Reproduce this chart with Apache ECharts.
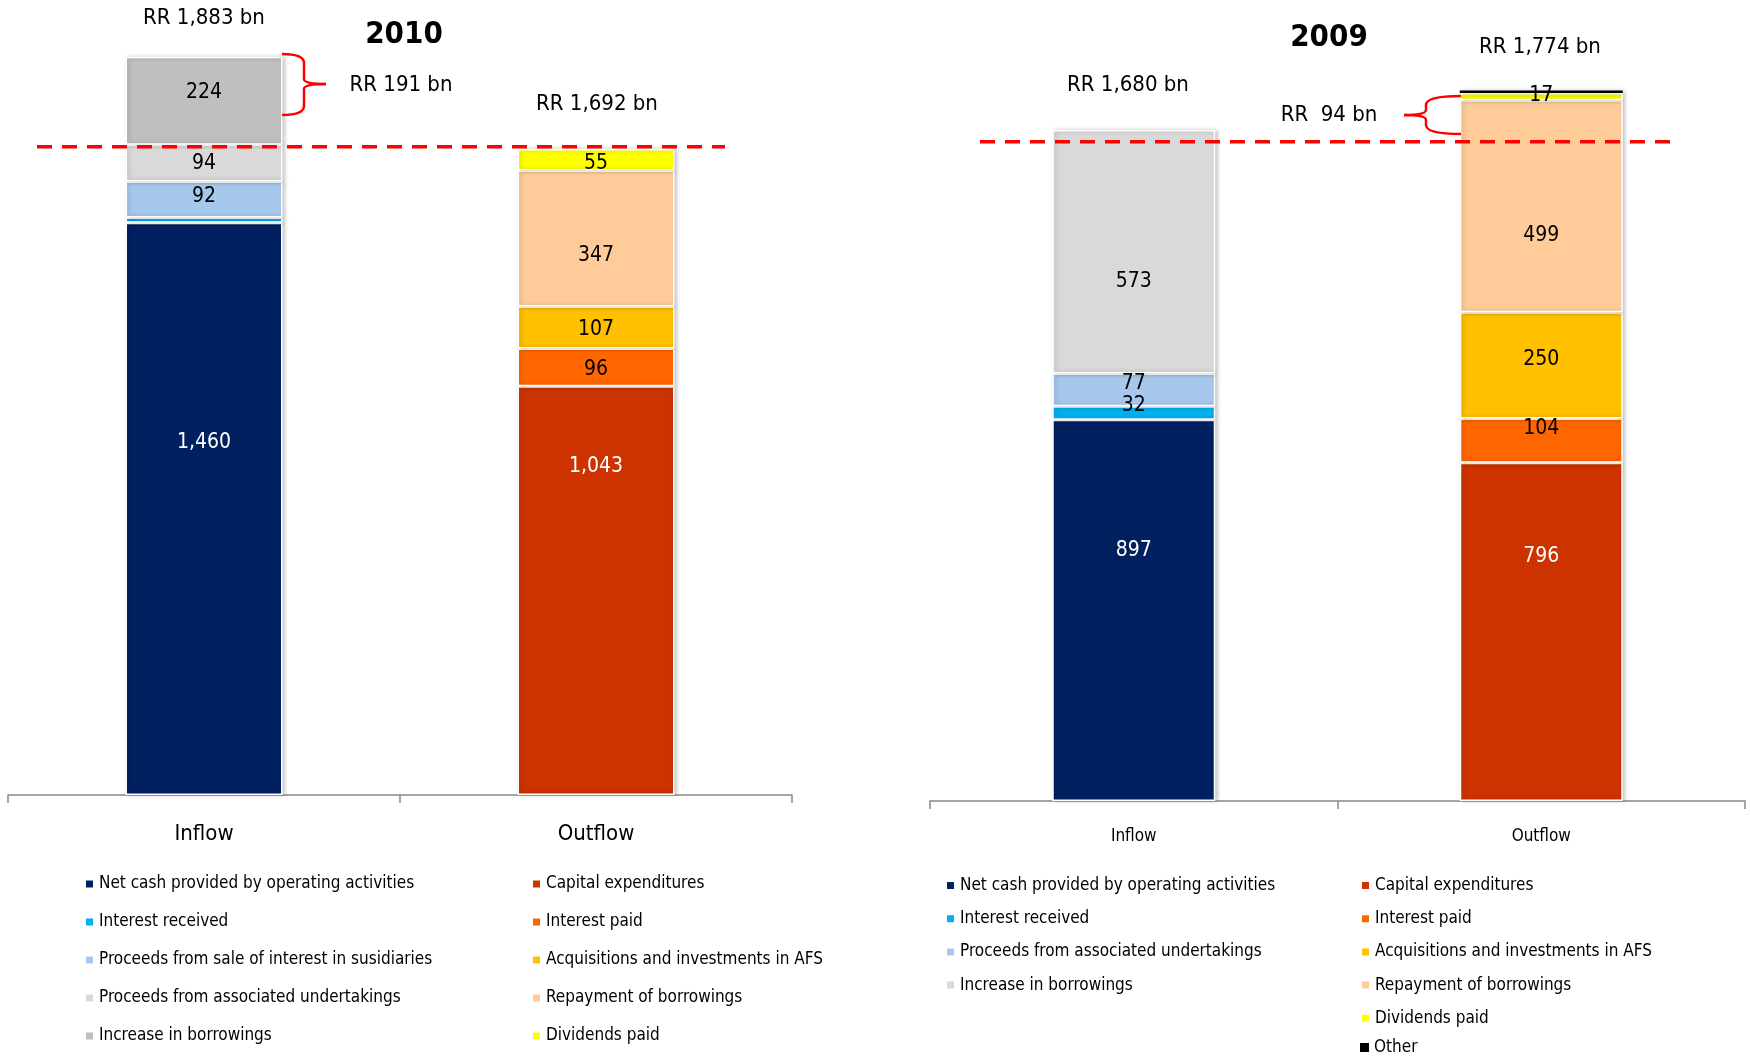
<!DOCTYPE html>
<html><head><meta charset="utf-8">
<script src="https://cdn.jsdelivr.net/npm/echarts@6/dist/echarts.min.js"></script>
<style>html,body{margin:0;padding:0;background:#fff}#c{width:1750px;height:1057px}</style>
</head><body><div id="c"></div>
<script>
// ---------- DATA ----------
const categories = ['Inflow', 'Outflow'];
// 2010 (RR bn)
const netCash2010 = [1460, null];
const interestReceived2010 = [13, null];
const proceedsSale2010 = [92, null];
const proceedsAssoc2010 = [94, null];
const increaseBorrow2010 = [224, null];
const capex2010 = [null, 1043];
const interestPaid2010 = [null, 96];
const acquisitions2010 = [null, 107];
const repayment2010 = [null, 347];
const dividends2010 = [null, 55];
const totals2010 = ['RR 1,883 bn', 'RR 1,692 bn'];
const gap2010 = 'RR 191 bn';
const dashLevel2010 = 1654;
// 2009 (RR bn)
const netCash2009 = [897, null];
const interestReceived2009 = [32, null];
const proceedsAssoc2009 = [77, null];
const increaseBorrow2009 = [573, null];
const capex2009 = [null, 796];
const interestPaid2009 = [null, 104];
const acquisitions2009 = [null, 250];
const repayment2009 = [null, 499];
const dividends2009 = [null, 17];
const other2009 = [null, 6];
const totals2009 = ['RR 1,680 bn', 'RR 1,774 bn'];
const gap2009 = 'RR  94 bn';
const dashLevel2009 = 1551;

const N = {
  net: 'Net cash provided by operating activities',
  intRec: 'Interest received',
  sale: 'Proceeds from sale of interest in susidiaries',
  assoc: 'Proceeds from associated undertakings',
  incB: 'Increase in borrowings',
  capex: 'Capital expenditures',
  intPaid: 'Interest paid',
  acq: 'Acquisitions and investments in AFS',
  rep: 'Repayment of borrowings',
  div: 'Dividends paid',
  other: 'Other'
};

// ---------- STYLE ----------
const FONT = "'Liberation Sans Narrow','Arial Narrow','DejaVu Sans Condensed',sans-serif";
const C = {
  net: '#002060', intRec: '#00B0F0', lightBlue: '#A6C8EC', lightGray: '#D9D9D9', gray: '#BFBFBF',
  capex: '#CC3300', intPaid: '#FF6600', acq: '#FFC000', rep: '#FFCC99', div: '#FFFF00', other: '#000000'
};

function bar(name, data, color, idx, stack, opts) {
  opts = opts || {};
  return {
    type: 'bar', name: name, data: data, stack: stack,
    xAxisIndex: idx, yAxisIndex: idx, barWidth: idx === 0 ? 157 : 163,
    itemStyle: {
      color: color, borderColor: '#fff', borderWidth: opts.border != null ? opts.border : 1.5,
      shadowColor: 'rgba(0,0,0,0.22)', shadowBlur: 4, shadowOffsetX: 2, shadowOffsetY: 0
    },
    label: {
      show: opts.label !== false, position: 'inside',
      color: opts.labelColor || '#000', fontSize: 21, fontFamily: FONT,
      offset: opts.offset || [0, 0],
      formatter: p => p.value == null ? '' : Number(p.value).toLocaleString('en-US')
    },
    emphasis: { disabled: true }
  };
}

const series = [
  bar(N.net, netCash2010, C.net, 0, 'a', { labelColor: '#fff', offset: [0, -66] }),
  bar(N.intRec, interestReceived2010, C.intRec, 0, 'a', { label: false }),
  bar(N.sale, proceedsSale2010, C.lightBlue, 0, 'a', { offset: [0, -3] }),
  bar(N.assoc, proceedsAssoc2010, C.lightGray, 0, 'a'),
  bar(N.incB, increaseBorrow2010, C.gray, 0, 'a', { offset: [0, -8] }),
  bar(N.capex, capex2010, C.capex, 0, 'a', { labelColor: '#fff', offset: [0, -124] }),
  bar(N.intPaid, interestPaid2010, C.intPaid, 0, 'a', { offset: [0, 2] }),
  bar(N.acq, acquisitions2010, C.acq, 0, 'a', { offset: [0, 2] }),
  bar(N.rep, repayment2010, C.rep, 0, 'a', { offset: [0, 17] }),
  bar(N.div, dividends2010, C.div, 0, 'a', { offset: [0, 4] }),

  bar(N.net, netCash2009, C.net, 1, 'b', { labelColor: '#fff', offset: [0, -60] }),
  bar(N.intRec, interestReceived2009, C.intRec, 1, 'b', { offset: [0, -7] }),
  bar(N.assoc, proceedsAssoc2009, C.lightBlue, 1, 'b', { offset: [0, -6] }),
  bar(N.incB, increaseBorrow2009, C.lightGray, 1, 'b', { offset: [0, 30] }),
  bar(N.capex, capex2009, C.capex, 1, 'b', { labelColor: '#fff', offset: [0, -75] }),
  bar(N.intPaid, interestPaid2009, C.intPaid, 1, 'b', { offset: [0, -12] }),
  bar(N.acq, acquisitions2009, C.acq, 1, 'b', { offset: [0, -6] }),
  bar(N.rep, repayment2009, C.rep, 1, 'b', { offset: [0, 29] }),
  bar(N.div, dividends2009, C.div, 1, 'b', { offset: [0, -1] }),
  bar(N.other, other2009, C.other, 1, 'b', { label: false, border: 0 })
];

function axis(idx, fs, margin) {
  return {
    type: 'category', data: categories, gridIndex: idx,
    axisLine: { lineStyle: { color: '#888', width: 1.5 } },
    axisTick: { show: true, length: 8, lineStyle: { color: '#888', width: 1.5 } },
    axisLabel: { fontSize: fs, fontFamily: FONT, color: '#000', margin: margin }
  };
}
function leg(left, top, gap, lh, items) {
  return {
    left: left, top: top, orient: 'vertical', itemGap: gap, itemWidth: 9, itemHeight: 9,
    icon: 'rect', selectedMode: false, padding: 0,
    textStyle: { fontSize: 17, fontFamily: FONT, color: '#000', lineHeight: lh },
    data: items.map(it => ({ name: it[0], itemStyle: { color: it[1] } }))
  };
}

const txt = (x, y, s, fs, bold) => ({
  type: 'text', x: x, y: y, z: 100,
  style: { text: s, fontSize: fs, fontFamily: FONT, fontWeight: bold ? 'bold' : 'normal',
    fill: '#000', align: 'center', verticalAlign: 'middle' }
});

const option = {
  animation: false,
  backgroundColor: '#fff',
  grid: [
    { left: 8, right: 958, top: 11, bottom: 262 },
    { left: 930, right: 5, top: 36, bottom: 256 }
  ],
  xAxis: [axis(0, 22, 28), axis(1, 17, 27)],
  yAxis: [
    { type: 'value', gridIndex: 0, min: 0, max: 2000, show: false },
    { type: 'value', gridIndex: 1, min: 0, max: 1800, show: false }
  ],
  legend: [
    leg(84, 874, 18, 20, [[N.net, C.net], [N.intRec, C.intRec], [N.sale, C.lightBlue], [N.assoc, C.lightGray], [N.incB, C.gray]]),
    leg(531, 874, 18, 20, [[N.capex, C.capex], [N.intPaid, C.intPaid], [N.acq, C.acq], [N.rep, C.rep], [N.div, C.div]]),
    leg(945, 877, 16.2, 14, [[N.net, C.net], [N.intRec, C.intRec], [N.assoc, C.lightBlue], [N.incB, C.lightGray]]),
    leg(1360, 877, 16.2, 14, [[N.capex, C.capex], [N.intPaid, C.intPaid], [N.acq, C.acq], [N.rep, C.rep], [N.div, C.div]]),
    leg(1360, 1039, 16.2, 14, [[N.other, C.other]])
  ],
  series: series
};

const chart = echarts.init(document.getElementById('c'), null, { renderer: 'canvas' });
chart.setOption(option);

// dashed reference lines placed through the library's own scales
const y10 = chart.convertToPixel({ gridIndex: 0 }, [0, dashLevel2010])[1];
const y09 = chart.convertToPixel({ gridIndex: 1 }, [0, dashLevel2009])[1];
const dash = (x1, x2, y) => ({
  type: 'line', shape: { x1: x1, y1: y, x2: x2, y2: y }, z: 100,
  style: { stroke: '#FF0000', lineWidth: 3.5, lineDash: [15, 10] }
});
const RED = { stroke: '#FF0000', lineWidth: 2.5, fill: null };
const q = (x1, y1, cx, cy, x2, y2) => ({ type: 'bezierCurve', z: 100,
  shape: { x1: x1, y1: y1, cpx1: cx, cpy1: cy, x2: x2, y2: y2 }, style: RED });
const ln = (x1, y1, x2, y2) => ({ type: 'line', z: 100, shape: { x1: x1, y1: y1, x2: x2, y2: y2 }, style: RED });
function brace(xe, xv, xm, yt, ym, yb) {
  return [
    q(xe, yt, xv, yt, xv, yt + 9),
    ln(xv, yt + 9, xv, ym - 5),
    q(xv, ym - 5, xv, ym, xm, ym),
    q(xm, ym, xv, ym, xv, ym + 5),
    ln(xv, ym + 5, xv, yb - 9),
    q(xv, yb - 9, xv, yb, xe, yb)
  ];
}

chart.setOption({
  graphic: [
    dash(37, 725, y10),
    dash(980, 1671, y09)
  ].concat(
    brace(282, 304, 326, 54, 84, 115),
    brace(1461, 1426, 1404, 96, 115, 134),
    [
      txt(204, 18, totals2010[0], 22),
      txt(404, 35, '2010', 31, true),
      txt(597, 104, totals2010[1], 22),
      txt(401, 85, gap2010, 22),
      txt(1329, 38, '2009', 31, true),
      txt(1128, 85, totals2009[0], 22),
      txt(1540, 47, totals2009[1], 22),
      txt(1329, 115, gap2009, 22)
    ]
  )
});
</script>
</body></html>
